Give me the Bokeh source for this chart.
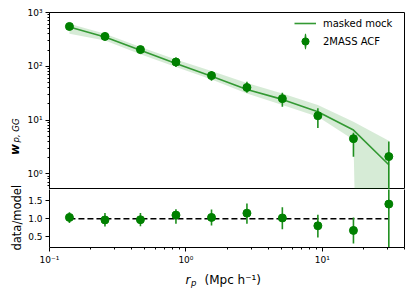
import numpy as np
from bokeh.plotting import figure
from bokeh.models import Range1d, FixedTicker, Legend, LegendItem, Label, LinearAxis
from bokeh.layouts import column, row
from bokeh.embed import file_html
from bokeh.resources import INLINE

# ---------------- data ----------------
rp = [0.140, 0.255, 0.464, 0.845, 1.54, 2.80, 5.09, 9.27, 16.9, 30.7]

wp_data = [550, 359, 204, 120, 67, 40.3, 25.0, 12.0, 4.5, 2.09]
wp_data_lo = [478, 302, 172, 97, 53.5, 32, 17.7, 7.1, 2.07, 0.1]
wp_data_hi = [633, 403, 235, 145, 82, 51.5, 32, 16.6, 5.8, 4.0]

wp_model = [535, 349, 198, 112, 65, 37, 24.2, 14.3, 6.5, 1.47]
wp_model_lo = [403, 302, 167, 97, 57, 31, 19, 11.5, 4.3, 0.0]
wp_model_hi = [616, 403, 228, 133, 82, 49, 31, 19, 9.3, 4.1]

ratio = [1.035, 0.965, 0.97, 1.10, 1.035, 1.155, 1.02, 0.80, 0.67, 1.41]
ratio_lo = [0.88, 0.78, 0.79, 0.86, 0.81, 0.86, 0.70, 0.47, 0.30, -0.10]
ratio_hi = [1.18, 1.16, 1.16, 1.265, 1.26, 1.43, 1.32, 1.11, 1.035, 2.90]

x_ticks = [0.1, 1.0, 10.0]
x_tick_labels = ["10\u207b\u00b9", "10\u2070", "10\u00b9"]
y_ticks = [1.0, 10.0, 100.0, 1000.0]
y_tick_labels = ["10\u2070", "10\u00b9", "10\u00b2", "10\u00b3"]
r_ticks = [0.5, 1.0, 1.5]
r_tick_labels = ["0.5", "1.0", "1.5"]

# ---------------- styling ----------------
FONT = "DejaVu Sans"
PT_COLOR = "#008000"
ERR_COLOR = "#1f8f1f"
LINE_COLOR = "#339933"
STRIP_W = 24
TOP_H = 189      # main panel figure height
BOT_H = 78       # ratio panel figure height


def minor_log(lo_exp, hi_exp):
    return [m * 10.0 ** e for e in range(lo_exp, hi_exp) for m in range(2, 10)]


def style_axis(ax):
    ax.axis_line_color = "black"
    ax.axis_line_width = 1
    ax.major_tick_line_color = "black"
    ax.minor_tick_line_color = "black"
    ax.major_tick_out = 4
    ax.major_tick_in = 0
    ax.minor_tick_out = 2
    ax.minor_tick_in = 0
    ax.major_label_text_font = FONT
    ax.major_label_text_font_size = "9px"
    ax.major_label_text_color = "black"
    ax.major_label_standoff = 3


def strip(w, h):
    s = figure(width=w, height=h, x_range=Range1d(0, 1), y_range=Range1d(0, 1),
               x_axis_location=None, y_axis_location=None,
               output_backend="svg", toolbar_location=None, min_border=0)
    s.grid.visible = False
    s.outline_line_color = None
    s.border_fill_color = "white"
    s.background_fill_color = "white"
    return s


def txt(fig, x, y, text, size, style="normal", angle=0.0, align="left"):
    fig.add_layout(Label(x=x, y=y, x_units="screen", y_units="screen", angle=angle,
                         text=text, text_font=FONT, text_font_style=style,
                         text_font_size=size, text_align=align,
                         text_baseline="alphabetic", text_color="black"))


xr = Range1d(0.1, 40)

# ---------------- main panel ----------------
p1 = figure(width=408 - STRIP_W, height=TOP_H, x_axis_type="log", y_axis_type="log",
            x_range=xr, y_range=Range1d(0.51, 1000),
            x_axis_location=None,
            output_backend="svg", toolbar_location=None,
            min_border_left=49 - STRIP_W, min_border_right=4, min_border_top=12,
            min_border_bottom=0)
p1.grid.visible = False
p1.outline_line_color = "black"
p1.outline_line_width = 1
p1.background_fill_color = "white"
p1.border_fill_color = "white"

ya = p1.yaxis[0]
ya.ticker = FixedTicker(ticks=y_ticks, minor_ticks=minor_log(-1, 3))
ya.major_label_overrides = dict(zip(y_ticks, y_tick_labels))
style_axis(ya)

band_lo = [v if v > 0 else 1e-30 for v in wp_model_lo]
p1.varea(x=rp, y1=band_lo, y2=wp_model_hi, fill_color="green", fill_alpha=0.16)
line_r = p1.line(x=rp, y=wp_model, line_color=LINE_COLOR, line_width=1.6)
p1.segment(x0=rp, y0=wp_data_lo, x1=rp, y1=wp_data_hi, line_color=ERR_COLOR, line_width=1.6)
# thin vertical ellipses hidden under the markers: they give the legend its error-bar stroke
bar_r = p1.ellipse(x=rp, y=wp_data, width=0.3, height=6, width_units="screen",
                   height_units="screen", fill_color=ERR_COLOR, line_color=ERR_COLOR,
                   line_width=1.4)
pts_r = p1.scatter(x=rp, y=wp_data, size=8, marker="circle",
                   fill_color=PT_COLOR, line_color=PT_COLOR)

legend = Legend(items=[LegendItem(label="masked mock", renderers=[line_r]),
                       LegendItem(label="2MASS ACF", renderers=[bar_r, pts_r])],
                location=(245, 139), padding=0, margin=0, spacing=-2,
                glyph_width=22, glyph_height=18, label_height=18,
                label_standoff=7, label_text_font=FONT,
                label_text_font_size="10px", label_text_color="black",
                background_fill_alpha=0, border_line_alpha=0)
p1.add_layout(legend)

# ---------------- ratio panel ----------------
p2 = figure(width=408 - STRIP_W, height=BOT_H, x_axis_type="log",
            x_range=xr, y_range=Range1d(0.19, 1.82),
            output_backend="svg", toolbar_location=None,
            min_border_left=49 - STRIP_W, min_border_right=4, min_border_top=0,
            min_border_bottom=18)
p2.grid.visible = False
p2.outline_line_color = None   # top edge comes from the main panel's frame
p2.background_fill_color = "white"
p2.border_fill_color = "white"

xa = p2.xaxis[0]
xa.ticker = FixedTicker(ticks=x_ticks, minor_ticks=minor_log(-1, 2))
xa.major_label_overrides = dict(zip(x_ticks, x_tick_labels))
style_axis(xa)
ya2 = p2.yaxis[0]
ya2.ticker = FixedTicker(ticks=r_ticks, minor_ticks=[])
ya2.major_label_overrides = dict(zip(r_ticks, r_tick_labels))
style_axis(ya2)

right_edge = LinearAxis(ticker=FixedTicker(ticks=[], minor_ticks=[]),
                        axis_line_color="black", axis_line_width=1,
                        major_tick_out=0, major_tick_in=0,
                        minor_tick_out=0, minor_tick_in=0,
                        major_label_text_font_size="0px", major_label_standoff=0)
p2.add_layout(right_edge, "right")

p2.line(x=[rp[0], rp[-1]], y=[1.0, 1.0], line_color="black", line_width=1.5,
        line_dash="6 3")
p2.segment(x0=rp, y0=ratio_lo, x1=rp, y1=ratio_hi, line_color=ERR_COLOR, line_width=1.6)
p2.scatter(x=rp, y=ratio, size=8, marker="circle", fill_color=PT_COLOR, line_color=PT_COLOR)

# ---------------- axis-title strips ----------------
H = TOP_H + BOT_H
sL = strip(STRIP_W, H)
txt(sL, 14, H - 154.5, "w", "12px", "bold italic", np.pi / 2)
txt(sL, 15.5, H - 142, "p, GG", "8.5px", "italic", np.pi / 2)
txt(sL, 16.5, H - 250, "data/model", "11.5px", "normal", np.pi / 2)

sB = strip(408, 24)
txt(sB, 185, 11.3, "r", "12px", "italic")
txt(sB, 190.5, 8.5, "p", "8.5px", "italic")
txt(sB, 204, 11.3, "(Mpc h\u207b\u00b9)", "12px")

layout = column(row(sL, column(p1, p2, spacing=0), spacing=0), sB, spacing=0)
open("out.html", "w").write(file_html(layout, INLINE))
